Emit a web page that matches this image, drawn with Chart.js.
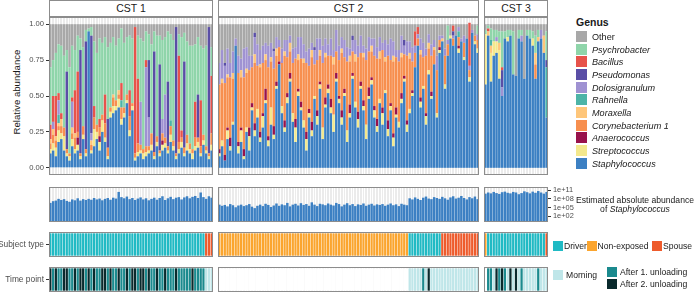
<!DOCTYPE html>
<html>
<head>
<meta charset="utf-8">
<script src="https://cdn.jsdelivr.net/npm/chart.js@4.4.1/dist/chart.umd.min.js"></script>
<style>
  body { margin: 0; width: 696px; height: 292px; position: relative; overflow: hidden; background: #fff;
         font-family: "Liberation Sans", Arial, sans-serif; color: #1a1a1a; }
  canvas { position: absolute; }
  .strip { position: absolute; top: 0px; height: 15px; border: 1px solid #8c8c8c; background: #fff;
           font-size: 10.5px; line-height: 15px; text-align: center; box-sizing: content-box; }
  .txt { position: absolute; white-space: nowrap; font-size: 8.6px; }
  .key { position: absolute; width: 11px; height: 11px; }
  .ylab { position: absolute; left: 16px; top: 92px; font-size: 9.6px; white-space: nowrap;
          transform: translate(-50%, -50%) rotate(-90deg); }
</style>
</head>
<body>
<div class="ylab">Relative abundance</div>
<script>
// ---- genera (stacked bottom -> top) ----
const genera = ['Staphylococcus', 'Streptococcus', 'Anaerococcus', 'Corynebacterium 1', 'Moraxella',
  'Rahnella', 'Dolosigranulum', 'Pseudomonas', 'Bacillus', 'Psychrobacter', 'Other'];
const genusColors = ['#3c80c3', '#f3e88d', '#98124b', '#f78f4f', '#fec67a',
  '#4db4a7', '#9f92d2', '#5a4ea6', '#e7534b', '#8fd5aa', '#a8a8a8'];

// ---- CST 1 (60 samples), relative abundance in % ----
const cst1Staph = [10,12,8,18,20,12,8,5,15,10, 12,6,20,8,95,10,15,20,12,25, 18,6,35,38,40,42,30,35,45,22, 40,5,8,10,6,8,10,12,6,15, 8,12,14,10,18,12,6,10,14,8, 12,10,6,12,14,8,16,10,6,12];
const cst1Strep = [3,5,6,8,4,10,2,3,5,3, 4,2,3,2,0,2,12,5,6,8, 3,2,4,5,3,6,4,3,2,4, 3,2,3,2,4,3,2,4,2,3, 2,4,3,2,5,3,2,3,4,2, 5,3,4,3,4,2,3,2,2,4];
const cst1Anaero = [0,0,0,0,0,0,0,0,0,0, 5,0,0,0,0,0,0,0,4,0, 0,0,0,0,0,0,0,0,0,0, 0,0,0,0,0,0,0,0,0,0, 0,3,0,0,0,0,0,0,0,0, 0,0,0,0,0,0,0,0,0,0];
const cst1Coryne = [4,6,5,3,5,6,3,2,4,8, 4,2,6,3,0,4,8,5,6,4, 10,6,3,6,4,3,8,4,4,10, 2,3,6,4,3,4,3,8,3,4, 2,5,4,3,6,4,2,5,3,4, 6,4,3,6,3,5,4,3,2,8];
const cst1Morax = [3,4,3,2,5,0,0,0,4,3, 0,0,0,0,0,3,0,0,0,0, 0,0,0,2,0,3,0,0,0,0, 0,0,0,0,0,0,0,0,0,0, 0,0,0,0,0,0,0,0,0,0, 0,0,0,0,0,0,0,0,0,0];
const cst1Rahn = [0,0,0,6,0,0,0,0,0,0, 0,0,0,0,0,0,0,0,0,0, 0,0,0,0,0,0,5,0,0,0, 0,0,0,0,0,0,0,0,0,0, 0,0,0,0,4,0,0,0,0,0, 0,0,0,0,0,0,0,0,0,0];
const cst1Dolo = [0,5,0,10,0,0,0,0,18,0, 0,0,0,0,0,5,0,0,0,0, 0,0,0,0,0,0,0,0,0,0, 0,0,0,30,0,55,20,0,0,0, 0,10,30,0,0,0,0,0,0,0, 0,0,0,0,0,0,0,0,0,0];
const cst1Pseudo = [0,0,0,0,0,0,54,0,0,0, 0,72,0,75,0,68,0,0,0,0, 0,20,0,0,0,0,0,0,0,0, 0,0,0,0,0,0,40,0,70,0, 60,0,0,45,0,0,88,0,0,60, 0,0,0,0,30,0,0,0,88,0];
const cst1Bacil = [10,18,28,5,4,0,0,0,3,30, 42,0,0,0,0,0,8,0,6,0, 20,0,0,0,0,0,12,0,0,18, 0,88,45,0,0,5,0,0,0,0, 0,0,0,0,0,0,0,60,5,0, 0,0,0,25,0,32,0,0,0,40];
const cst1Psychro = [40,25,30,34,47,50,15,60,36,28, 25,8,55,8,2,6,45,50,56,50, 40,50,45,40,38,36,38,45,40,38, 45,0,30,44,75,20,18,62,14,70, 20,55,40,35,60,70,0,15,65,20, 65,68,72,40,40,38,60,70,0,20];

// ---- CST 2 (96 samples) ----
const cst2Staph = [8,15,5,20,12,30,85,10,18,6, 25,12,40,22,35,18,28,45,15,30, 20,55,72,38,25,45,60,32,18,50, 40,28,12,35,22,48,30,55,20,42, 52,38,25,60,45,30,50,18,35,62, 42,28,55,40,20,48,58,35,25,45, 30,52,22,40,15,35,28,45,60,25, 38,50,70,85,42,55,30,65,48,72, 35,80,88,55,78,90,85,92,80,88, 75,90,60,94,86,80];
const cst2Strep = [2,4,0,6,3,2,0,5,8,2, 3,10,2,4,6,3,8,2,4,12, 3,2,0,5,3,4,2,6,10,3, 2,5,8,3,4,2,6,3,8,2, 3,4,12,2,3,5,2,8,3,2, 4,6,2,3,10,2,3,5,4,3, 8,2,5,3,6,2,4,3,2,5, 3,2,0,0,4,2,6,3,2,0, 3,2,0,3,0,2,0,0,3,0, 2,0,3,0,2,3];
const cst2Anaero = [3,0,4,2,6,0,0,3,2,5, 0,6,3,5,0,4,2,8,3,0, 6,3,2,0,5,3,4,0,6,2, 4,0,5,3,6,0,4,2,0,5, 3,6,0,4,2,5,3,0,6,2, 0,5,3,4,0,6,2,3,5,0, 4,0,6,2,3,5,0,4,2,3, 0,2,0,0,3,0,2,0,3,0, 0,2,0,0,0,0,0,0,2,0, 0,0,0,0,0,0];
const cst2Coryne = [45,40,50,35,42,30,0,48,35,50, 38,40,25,42,30,45,35,20,48,32, 40,18,10,30,45,25,15,35,42,20, 30,40,48,30,45,22,35,18,45,28, 20,30,35,15,25,40,22,48,30,15, 28,38,20,30,45,25,18,35,42,28, 40,20,45,30,50,35,42,25,15,45, 35,20,10,5,30,20,40,15,25,10, 30,5,0,20,8,0,5,0,6,0, 10,0,5,0,4,6];
const cst2Morax = [0,3,0,2,0,4,0,0,5,0, 3,0,0,6,0,2,0,4,0,3, 0,5,0,0,3,0,6,0,0,4, 0,3,0,0,5,0,0,4,0,3, 0,0,5,0,0,3,0,0,4,0, 5,0,0,3,0,0,4,0,0,5, 0,3,0,0,4,0,0,3,0,0, 4,0,0,0,3,0,0,4,0,2, 0,0,2,0,0,0,0,0,0,0, 0,0,0,0,0,0];
const cst2Rahn = [0,0,0,0,0,0,0,0,0,0, 0,0,0,0,0,0,0,0,0,0, 0,0,0,0,0,0,0,0,0,0, 0,0,0,0,0,0,0,0,0,0, 0,0,0,0,0,0,0,0,0,0, 0,0,0,0,0,0,0,0,0,0, 0,0,0,0,0,0,0,0,0,0, 0,0,0,0,0,0,0,0,0,0, 0,0,0,0,0,0,0,0,4,0, 0,0,0,0,0,0];
const cst2Dolo = [15,20,12,18,10,15,5,12,8,20, 15,10,8,12,15,10,12,8,15,10, 12,8,5,10,8,12,5,10,8,12, 15,10,8,12,5,10,15,8,12,10, 8,12,5,15,10,8,12,10,5,8, 10,8,12,5,8,10,5,12,8,10, 5,12,8,15,10,5,8,12,6,10, 8,10,5,3,8,10,5,6,8,5, 10,3,2,5,3,0,2,0,3,2, 5,0,3,2,0,4];
const cst2Pseudo = [0,0,2,0,0,0,0,0,0,0, 0,0,0,3,0,0,0,0,0,0, 2,0,0,0,0,0,0,0,0,0, 0,0,0,0,0,2,0,0,0,0, 0,0,0,0,0,0,0,0,0,3, 0,0,0,0,0,0,0,0,0,0, 0,0,0,0,0,0,0,0,4,0, 0,0,0,0,0,0,0,0,0,0, 0,0,0,0,0,0,3,0,0,0, 0,0,0,0,0,0];
const cst2Bacil = [0,0,0,0,0,0,0,0,0,0, 0,0,0,0,0,0,0,0,0,0, 0,0,0,0,0,0,0,0,0,0, 0,0,0,0,0,0,0,0,0,0, 0,0,0,0,0,0,0,0,0,0, 0,0,0,0,0,0,0,0,0,0, 0,0,0,0,0,0,0,0,0,0, 0,0,10,5,0,0,0,0,0,0, 0,0,0,0,0,0,4,0,0,0, 0,0,30,0,0,0];
const cst2Psychro = [0,0,0,0,0,0,0,0,0,0, 0,0,0,0,0,0,0,0,0,0, 0,0,0,0,0,0,0,0,0,0, 0,0,0,0,0,0,0,0,0,0, 0,0,0,0,0,0,0,0,0,0, 0,0,0,0,0,0,0,0,0,0, 0,0,0,0,0,0,0,0,0,0, 0,0,0,0,0,0,0,0,0,0, 0,0,0,0,10,0,0,0,0,0, 0,0,0,0,0,6];

// ---- CST 3 (23 samples) ----
const cst3Staph = [58,92,60,78,80,62,50,90,88,92, 65,64,90,88,62,92,90,85,62,88, 90,80,35];
const cst3Strep = [35,0,20,10,8,20,0,0,3,0, 0,0,0,0,0,0,0,5,0,0, 0,0,0];
const cst3Anaero = [0,0,0,0,0,0,0,0,0,0, 0,0,0,0,0,0,0,0,0,0, 0,0,0];
const cst3Coryne = [0,0,0,0,0,0,0,0,0,0, 0,0,0,0,0,0,0,0,10,0, 0,0,0];
const cst3Morax = [0,3,5,0,0,5,0,0,0,0, 0,0,0,0,0,0,0,0,8,3, 0,12,0];
const cst3Rahn = [0,0,4,0,0,0,0,0,0,0, 0,0,0,0,0,0,0,0,0,0, 0,0,35];
const cst3Dolo = [0,0,0,0,3,0,6,0,0,0, 0,0,0,4,0,0,0,0,0,0, 6,0,0];
const cst3Pseudo = [0,0,0,0,0,0,12,0,0,0, 0,0,0,0,0,0,0,0,0,0, 0,0,5];
const cst3Bacil = [0,2,0,0,0,0,2,0,0,0, 0,0,0,0,0,0,0,0,0,0, 0,0,0];
const cst3Psychro = [3,2,8,8,5,8,25,5,5,4, 30,0,6,4,0,4,6,5,12,5, 0,0,20];

// ---- estimated absolute abundance of Staphylococcus (log10 copies) ----
const cst1AbsLog = [6.6,7.2,7.4,8.0,7.6,7.9,7.3,7.0,7.8,7.5, 8.2,7.4,7.9,7.6,8.0,7.7,8.3,7.8,8.1,7.5, 8.0,8.3,7.7,8.4,8.1,10.4,8.6,8.2,8.8,7.9, 8.3,7.6,8.1,8.5,7.8,8.2,7.5,8.0,8.4,7.7, 8.3,8.9,7.6,8.2,8.7,7.9,8.4,8.6,7.8,8.5, 8.9,8.2,8.7,9.0,8.3,10.2,8.6,8.0,8.9,8.4];
const cst2AbsLog = [6.0,5.6,5.9,5.4,6.2,5.8,5.1,5.7,6.0,5.5, 5.8,6.2,5.3,4.8,5.6,6.0,5.5,6.3,5.9,5.2, 5.7,6.4,5.6,6.1,5.8,6.6,5.4,6.0,6.3,5.7, 6.5,5.9,6.2,5.6,6.8,6.0,5.5,6.3,6.1,5.8, 6.4,6.0,5.7,6.6,6.2,5.4,6.0,6.5,5.8,6.2, 5.5,6.1,5.9,6.4,5.6,6.0,6.3,5.7,6.1,5.9, 6.2,5.6,6.0,6.4,5.8,6.1,5.5,6.3,6.0,5.8, 8.2,7.8,8.5,8.0,7.6,8.4,8.8,8.1,7.9,8.6, 8.3,8.0,8.7,8.2,7.7,8.5,8.9,8.1,8.4,9.0, 8.3,7.8,8.6,8.2,8.8,7.9];
const cst3AbsLog = [9.8,10.2,9.9,10.4,10.0,9.7,10.3,10.5,10.1,9.9, 10.4,10.2,9.6,10.0,10.6,10.3,9.9,10.5,10.1,10.7, 10.2,9.8,10.4];
const absTicks = [2, 5, 8, 11];

// ---- subject type (D driver, N non-exposed, S spouse) ----
const cst1Subject = ('DDDDDDDDDD' + 'DDDDDDDDDD' + 'DDDDDDDDDD' + 'DDDDDDDDDD' + 'DDDDDDDDDD' + 'DDDDDDDSSS').split('');
const cst2Subject = ('NNNNNNNNNN' + 'NNNNNNNNNN' + 'NNNNNNNNNN' + 'NNNNNNNNNN' + 'NNNNNNNNNN' + 'NNNNNNNNNN' + 'NNNNNNNNNN' +
  'DDDDDDDDDDDD' + 'SSSSSSSSSSSSSS').split('');
const cst3Subject = ('N' + 'DDDDDDDDDDDDDDDDDDDDD' + 'S').split('');

// ---- time point (M morning, 1 after 1. unloading, 2 after 2. unloading, - none) ----
const cst1Time = ('2121122112' + '1221212112' + '2121121121' + '2212212112' + '1121112111' + '1121111MMM').split('');
const cst2Time = ('----------' + '----------' + '----------' + '----------' + '----------' + '----------' + '----------' +
  'MMMMM1M2MMMMMMMMMMMMMMMMMM').split('');
const cst3Time = '-11M2121M2M2M1MMMMM1MMM'.split('');

const relTicks = [0, 25, 50, 75, 100];
const cstNames = ['CST 1', 'CST 2', 'CST 3'];

const subjectNames = { D: 'Driver', N: 'Non-exposed', S: 'Spouse' };
const subjectColors = { D: '#20bac4', N: '#fba52e', S: '#ee5b2c' };
const timeNames = { M: 'Morning', '1': 'After 1. unloading', '2': 'After 2. unloading' };
const timeColors = { M: '#bfe6e9', '1': '#1b8a8e', '2': '#0a2a2d', '-': '#ffffff' };

// ---- geometry ----
const panels = [{ left: 49, width: 164 }, { left: 218, width: 261 }, { left: 484, width: 64 }];
const rows = { rel: [17, 158], abs: [187, 35], subj: [232, 25], time: [267, 25] };

Chart.defaults.font.family = '"Liberation Sans", Arial, sans-serif';
Chart.defaults.color = '#4d4d4d';

const frame = {
  id: 'frame',
  beforeDraw(chart, args, opts) {
    const a = chart.chartArea, ctx = chart.ctx;
    ctx.save();
    ctx.fillStyle = opts.bg || '#ebebeb';
    ctx.fillRect(a.left, a.top, a.right - a.left, a.bottom - a.top);
    ctx.restore();
  },
  afterDraw(chart) {
    const a = chart.chartArea, ctx = chart.ctx;
    ctx.save();
    ctx.strokeStyle = '#8c8c8c';
    ctx.lineWidth = 1;
    ctx.strokeRect(a.left + 0.5, a.top + 0.5, a.right - a.left - 1, a.bottom - a.top - 1);
    ctx.restore();
  }
};
Chart.register(frame);

function addCanvas(left, top, width, height) {
  const c = document.createElement('canvas');
  c.width = width; c.height = height;
  c.style.left = left + 'px'; c.style.top = top + 'px';
  c.style.width = width + 'px'; c.style.height = height + 'px';
  document.body.appendChild(c);
  return c.getContext('2d');
}

function xAxis() {
  return {
    stacked: true,
    ticks: { display: false },
    grid: { color: '#ffffff', lineWidth: 1, drawTicks: false, offset: true },
    border: { display: false }
  };
}

// y axis; when shown it gets a fixed width so the plot area lands on the panel
function sideAxis(show, width, tickValues, label, pos, fontSize) {
  return {
    display: show,
    position: pos,
    afterBuildTicks: s => { s.ticks = tickValues.map(v => ({ value: v })); },
    ticks: { callback: label, color: '#4d4d4d', font: { size: fontSize }, padding: 2, autoSkip: false, maxRotation: 0 },
    grid: { drawOnChartArea: false, drawTicks: true, tickLength: 3, color: '#333333' },
    border: { display: false },
    afterFit: s => {
      s.width = show ? width : 0;
      s.paddingTop = 0; s.paddingBottom = 0;
    }
  };
}

const baseOpts = {
  responsive: false, animation: false, events: [],
  layout: { padding: 0 },
  plugins: { legend: { display: false }, tooltip: { enabled: false } }
};

const stacks = [
  [cst1Staph, cst1Strep, cst1Anaero, cst1Coryne, cst1Morax, cst1Rahn, cst1Dolo, cst1Pseudo, cst1Bacil, cst1Psychro],
  [cst2Staph, cst2Strep, cst2Anaero, cst2Coryne, cst2Morax, cst2Rahn, cst2Dolo, cst2Pseudo, cst2Bacil, cst2Psychro],
  [cst3Staph, cst3Strep, cst3Anaero, cst3Coryne, cst3Morax, cst3Rahn, cst3Dolo, cst3Pseudo, cst3Bacil, cst3Psychro]
];
const absData = [cst1AbsLog, cst2AbsLog, cst3AbsLog];
const subjData = [cst1Subject, cst2Subject, cst3Subject];
const timeData = [cst1Time, cst2Time, cst3Time];

panels.forEach((p, k) => {
  const series = stacks[k];
  const labels = series[0].map((_, i) => cstNames[k] + '-' + (i + 1));
  const other = labels.map((_, i) => Math.max(0, 100 - series.reduce((s, arr) => s + arr[i], 0)));
  const all = series.concat([other]);

  // strip
  const strip = document.createElement('div');
  strip.className = 'strip';
  strip.style.left = p.left + 'px';
  strip.style.width = (p.width - 2) + 'px';
  strip.textContent = cstNames[k];
  document.body.appendChild(strip);

  // relative abundance
  const showY = k === 0;
  const axisW = showY ? 49 : 0;
  const relY = Object.assign(sideAxis(showY, 49, relTicks, v => (v / 100).toFixed(2), 'left', 7.6),
    { stacked: true, min: -5, max: 105 });
  new Chart(addCanvas(p.left - axisW, rows.rel[0], p.width + axisW, rows.rel[1]), {
    type: 'bar',
    data: {
      labels,
      datasets: all.map((d, g) => ({
        label: genera[g], data: d, backgroundColor: genusColors[g],
        borderWidth: 0, barPercentage: 0.9, categoryPercentage: 1
      }))
    },
    options: Object.assign({}, baseOpts, { scales: { x: xAxis(), y: relY } })
  });

  // absolute abundance
  const showR = k === 2;
  const absY = Object.assign(sideAxis(showR, 28, absTicks, v => '1e+' + String(v).padStart(2, '0'), 'right', 7.4),
    { min: 0, max: 12.1 });
  new Chart(addCanvas(p.left, rows.abs[0], p.width + (showR ? 28 : 0), rows.abs[1]), {
    type: 'bar',
    data: {
      labels,
      datasets: [{ data: absData[k], backgroundColor: genusColors[0], borderWidth: 0,
        barPercentage: 0.9, categoryPercentage: 1 }]
    },
    options: Object.assign({}, baseOpts, { scales: { x: xAxis(), y: absY } })
  });

  // tile rows
  [['subj', subjData[k], subjectColors, 'Subject type'], ['time', timeData[k], timeColors, 'Time point']]
    .forEach(([row, codes, colors, name]) => {
      const tileY = Object.assign(sideAxis(showY, 49, [0.5], () => name, 'left', 8.4),
        { min: -0.06, max: 1.06 });
      new Chart(addCanvas(p.left - axisW, rows[row][0], p.width + axisW, rows[row][1]), {
        type: 'bar',
        data: {
          labels,
          datasets: [{ data: codes.map(() => 1), backgroundColor: codes.map(c => colors[c]),
            borderWidth: 0, barPercentage: 0.82, categoryPercentage: 1 }]
        },
        options: Object.assign({}, baseOpts, { scales: { x: xAxis(), y: tileY } })
      });
    });
});

// ---- legends ----
function addText(text, left, cy, opts = {}) {
  const d = document.createElement('div');
  d.className = 'txt';
  d.textContent = text;
  d.style.left = left + 'px';
  d.style.top = (cy - 6) + 'px';
  d.style.lineHeight = '12px';
  if (opts.italic) d.style.fontStyle = 'italic';
  if (opts.bold) d.style.fontWeight = 'bold';
  if (opts.size) d.style.fontSize = opts.size + 'px';
  document.body.appendChild(d);
  return d;
}
function addKey(color, left, top, size = 11) {
  const d = document.createElement('div');
  d.className = 'key';
  d.style.left = left + 'px'; d.style.top = top + 'px';
  d.style.width = size + 'px'; d.style.height = size + 'px';
  d.style.background = color;
  document.body.appendChild(d);
}

addText('Genus', 576, 22, { bold: true, size: 10.5 });
genera.slice().reverse().forEach((g, i) => {
  const top = Math.round(31 + i * 12.67);
  addKey(genusColors[genera.length - 1 - i], 576, top);
  addText(g, 592, top + 5.5, { italic: g !== 'Other', size: 9.1 });
});

const l1 = addText('Estimated absolute abundance', 576, 200);
const l2 = document.createElement('div');
l2.className = 'txt';
l2.innerHTML = 'of <i>Staphylococcus</i>';
l2.style.left = '576px'; l2.style.top = '203px'; l2.style.lineHeight = '12px';
l2.style.width = l1.offsetWidth + 'px'; l2.style.textAlign = 'center';
document.body.appendChild(l2);

[['D', 553, 564], ['N', 587, 597.5], ['S', 652, 663]].forEach(([c, kx, tx]) => {
  addKey(subjectColors[c], kx, 241, 10);
  addText(subjectNames[c], tx, 246);
});
addKey(timeColors.M, 553, 270, 10);
addText(timeNames.M, 566, 275);
addKey(timeColors['1'], 607, 267, 10);
addText(timeNames['1'], 620, 272);
addKey(timeColors['2'], 607, 279, 10);
addText(timeNames['2'], 620, 284);
</script>
</body>
</html>
